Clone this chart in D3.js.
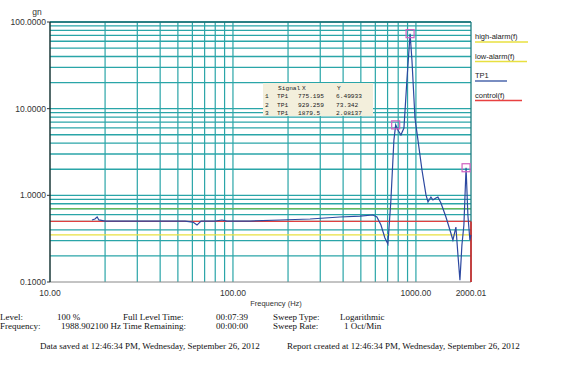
<!DOCTYPE html>
<html><head><meta charset="utf-8">
<script src="https://cdn.jsdelivr.net/npm/d3@7"></script>
<style>html,body{margin:0;padding:0;background:#fff;}svg{display:block;}</style>
</head><body>
<svg id="c" width="564" height="366"></svg>
<script>
// ---- data ----
const freq = [16.96,17.6,18.1,18.5,20.0,25.7,35.2,54.7,60.4,63.6,66.9,79.7,87.1,92.7,124,181,264,384,494,582,612,644,677,703,730,758,775.195,797,828,860,893,929.259,951,988,1026,1079,1135,1164,1208,1239,1286,1319,1370,1459,1534,1593,1654,1697,1740,1784,1829,1879.5,1923,1972,2000];
const tp1  = [0.519,0.533,0.562,0.52,0.505,0.505,0.505,0.505,0.492,0.454,0.505,0.505,0.519,0.505,0.505,0.519,0.533,0.562,0.577,0.593,0.562,0.454,0.322,0.274,0.883,4.34,6.49933,5.67,4.96,5.98,21.4,73.342,36.4,7.79,4.34,1.96,1.01,0.837,0.955,0.883,0.931,0.955,0.815,0.562,0.398,0.305,0.431,0.205,0.105,0.267,0.454,2.08137,0.593,0.305,0.35];
const highAlarm = 0.7, lowAlarm = 0.35, control = 0.5;
const markIdx = ["1","2","3"];
const markSig = ["TP1","TP1","TP1"];
const markX = [775.195, 929.259, 1879.5];
const markXText = ["775.195","929.259","1879.5"];
const markY = [6.49933, 73.342, 2.08137];
const markYText = ["6.49933","73.342","2.08137"];
const yTicks = [0.1, 1, 10, 100];
const yTickLabels = ["0.1000","1.0000","10.0000","100.0000"];
const xTicks = [10, 100, 1000, 2000.01];
const xTickLabels = ["10.00","100.00","1000.00","2000.01"];
const legendNames = ["high-alarm(f)","low-alarm(f)","TP1","control(f)"];
const legendColors = ["#e8e040","#e8e040","#3050a0","#e84040"];
const infoRow1 = ["Level:","100 %","Full Level Time:","00:07:39","Sweep Type:","Logarithmic"];
const infoRow2 = ["Frequency:","1988.902100 Hz","Time Remaining:","00:00:00","Sweep Rate:","1 Oct/Min"];
const savedText = "Data saved at 12:46:34 PM, Wednesday, September 26, 2012";
const reportText = "Report created at 12:46:34 PM, Wednesday, September 26, 2012";

// ---- layout ----
const svg = d3.select("#c");
const L = 50, R = 471, T = 22, B = 282;
const x = d3.scaleLog().domain([10, 2000.01]).range([L, R]);
const y = d3.scaleLog().domain([0.1, 100]).range([B, T]);
const grid = "#2aa5a8";

// grid
const xg = [];
for (let d = 10; d <= 1000; d *= 10) for (let k = 2; k <= 10; k++) if (d*k < 2000) xg.push(d*k);
svg.append("g").selectAll("line").data(xg).join("line")
  .attr("x1", d => x(d)).attr("x2", d => x(d)).attr("y1", T).attr("y2", B)
  .attr("stroke", grid).attr("stroke-width", 1.2);
const yg = [];
for (let d = 0.1; d < 100; d *= 10) for (let k = 2; k <= 10; k++) yg.push(d*k);
svg.append("g").selectAll("line").data(yg).join("line")
  .attr("x1", L).attr("x2", R).attr("y1", d => y(d)).attr("y2", d => y(d))
  .attr("stroke", grid).attr("stroke-width", 1.3);

// thresholds
svg.append("line").attr("x1", L).attr("x2", R).attr("y1", y(highAlarm)).attr("y2", y(highAlarm)).attr("stroke", "#7cc040").attr("stroke-width", 1.2);
svg.append("line").attr("x1", L).attr("x2", R).attr("y1", y(lowAlarm)).attr("y2", y(lowAlarm)).attr("stroke", "#e8e040").attr("stroke-width", 1.2);
svg.append("line").attr("x1", L).attr("x2", R).attr("y1", y(control)).attr("y2", y(control)).attr("stroke", "#e04040").attr("stroke-width", 1.2);

// frame
svg.append("line").attr("x1", L).attr("x2", R).attr("y1", T).attr("y2", T).attr("stroke", "#1d6d70").attr("stroke-width", 1.3);
svg.append("line").attr("x1", R).attr("x2", R).attr("y1", T).attr("y2", B).attr("stroke", "#1d7d80").attr("stroke-width", 1.3);
svg.append("line").attr("x1", L).attr("x2", R).attr("y1", B).attr("y2", B).attr("stroke", "#888").attr("stroke-width", 1);
svg.append("line").attr("x1", L).attr("x2", L).attr("y1", T).attr("y2", B).attr("stroke", "#1a3a3a").attr("stroke-width", 1.5);
// control end red vertical at right edge
svg.append("line").attr("x1", R).attr("x2", R).attr("y1", y(control)).attr("y2", B).attr("stroke", "#e02020").attr("stroke-width", 1.5);

// TP1 trace
const pts = freq.map((f, i) => [f, tp1[i]]);
svg.append("path").datum(pts)
  .attr("d", d3.line().x(d => x(d[0])).y(d => y(d[1])))
  .attr("fill", "none").attr("stroke", "#2c48a0").attr("stroke-width", 1.2);

// markers
svg.append("g").selectAll("rect").data(markX).join("rect")
  .attr("x", (d) => x(d) - 4).attr("y", (d, i) => y(markY[i]) - 4)
  .attr("width", 8).attr("height", 8)
  .attr("fill", "none").attr("stroke", "#d060c0").attr("stroke-width", 1.2);

// y axis labels
svg.append("g").selectAll("text").data(yTicks).join("text")
  .attr("x", 46).attr("y", d => y(d) + 3).attr("text-anchor", "end")
  .attr("font-family", "Liberation Sans, Arial, sans-serif").attr("font-size", 8.5).attr("fill", "#333")
  .text((d, i) => yTickLabels[i]);
svg.append("g").selectAll("line").data(yTicks).join("line")
  .attr("x1", 47).attr("x2", L).attr("y1", d => y(d)).attr("y2", d => y(d)).attr("stroke", "#333");
svg.append("text").attr("x", 37).attr("y", 15).attr("text-anchor", "middle")
  .attr("font-family", "Liberation Sans, Arial, sans-serif").attr("font-size", 8.5).attr("fill", "#333").text("gn");

// x axis labels
svg.append("g").selectAll("text").data(xTicks).join("text")
  .attr("x", d => x(d)).attr("y", 296).attr("text-anchor", "middle")
  .attr("font-family", "Liberation Sans, Arial, sans-serif").attr("font-size", 8.5).attr("fill", "#333")
  .text((d, i) => xTickLabels[i]);
svg.append("text").attr("x", 276).attr("y", 306).attr("text-anchor", "middle")
  .attr("font-family", "Liberation Sans, Arial, sans-serif").attr("font-size", 7.5).attr("fill", "#333").text("Frequency (Hz)");

// legend
const lg = svg.append("g").selectAll("g").data(legendNames).join("g")
  .attr("transform", (d, i) => `translate(475, ${39 + i*19.5})`);
lg.append("text").attr("x", 0).attr("y", 0)
  .attr("font-family", "Liberation Sans, Arial, sans-serif").attr("font-size", 7.5).attr("fill", "#222").text(d => d);
lg.append("line").attr("x1", 0).attr("x2", (d, i) => [53, 52, 32, 47][i]).attr("y1", 3).attr("y2", 3)
  .attr("stroke", (d, i) => legendColors[i]).attr("stroke-width", 1.3);

// marker table
const tb = svg.append("g");
tb.append("rect").attr("x", 263).attr("y", 83).attr("width", 110).attr("height", 33).attr("fill", "#f3efdc");
const mono = "Liberation Mono, DejaVu Sans Mono, monospace";
tb.append("text").attr("x", 278).attr("y", 90).attr("font-family", mono).attr("font-size", 6.2).attr("fill", "#222").text("Signal");
tb.append("text").attr("x", 302).attr("y", 90).attr("font-family", mono).attr("font-size", 6.2).attr("fill", "#222").text("X");
tb.append("text").attr("x", 337).attr("y", 90).attr("font-family", mono).attr("font-size", 6.2).attr("fill", "#222").text("Y");
const rows = tb.selectAll("g.r").data(markIdx).join("g").attr("class", "r")
  .attr("transform", (d, i) => `translate(0, ${98 + i*8.5})`);
rows.append("text").attr("x", 265).attr("font-family", mono).attr("font-size", 6.2).attr("fill", "#222").text(d => d);
rows.append("text").attr("x", 277).attr("font-family", mono).attr("font-size", 6.2).attr("fill", "#222").text((d, i) => markSig[i]);
rows.append("text").attr("x", 298).attr("font-family", mono).attr("font-size", 6.2).attr("fill", "#222").text((d, i) => markXText[i]);
rows.append("text").attr("x", 336).attr("font-family", mono).attr("font-size", 6.2).attr("fill", "#222").text((d, i) => markYText[i]);

// info text
const serif = "Liberation Serif, Times New Roman, serif";
const colX1 = [0, 57, 123, 216, 273, 340];
const colX2 = [0, 61, 123, 216, 273, 344];
svg.append("g").selectAll("text").data(infoRow1).join("text")
  .attr("x", (d, i) => colX1[i]).attr("y", 320).attr("font-family", serif).attr("font-size", 9).attr("fill", "#111").text(d => d);
svg.append("g").selectAll("text").data(infoRow2).join("text")
  .attr("x", (d, i) => colX2[i]).attr("y", 329).attr("font-family", serif).attr("font-size", 9).attr("fill", "#111").text(d => d);
svg.append("text").attr("x", 40).attr("y", 349).attr("font-family", serif).attr("font-size", 9).attr("fill", "#111").text(savedText);
svg.append("text").attr("x", 287).attr("y", 349).attr("font-family", serif).attr("font-size", 9).attr("fill", "#111").text(reportText);
</script>
</body></html>
